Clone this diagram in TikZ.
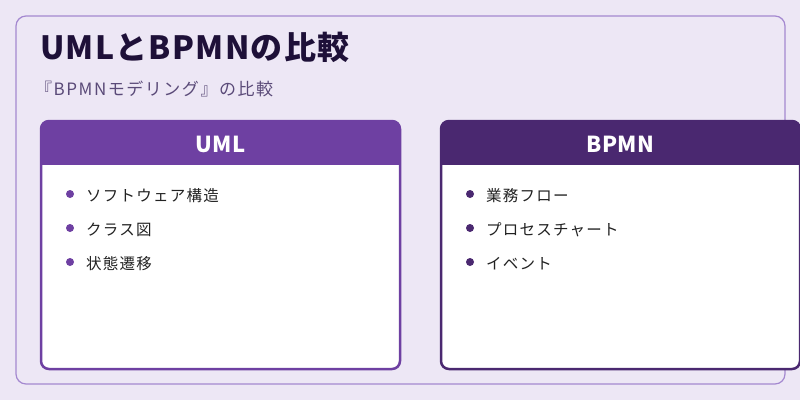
\documentclass[tikz,border=0pt]{standalone}
\usepackage{fontspec}
\setmainfont{Noto Sans CJK JP}
\definecolor{bg}{HTML}{EDE7F5}
\definecolor{frame}{HTML}{A488D0}
\definecolor{umlc}{HTML}{6E40A2}
\definecolor{bpmnc}{HTML}{4A2870}
\definecolor{titlec}{HTML}{1E1038}
\definecolor{subc}{HTML}{5A4A78}
\definecolor{txt}{HTML}{222222}
\begin{document}
\begin{tikzpicture}[x=1pt,y=-1pt,
  card/.style={rounded corners=8pt,line width=2.5pt,fill=white},
  item/.style={anchor=west,font=\fontsize{15.5}{18}\selectfont\addfontfeatures{LetterSpace=8},text=txt,inner sep=0},
  head/.style={font=\bfseries\fontsize{22}{26}\selectfont\addfontfeatures{LetterSpace=3},text=white}]
\useasboundingbox (0,0) rectangle (800,400);
\fill[bg] (0,0) rectangle (800,400);
\draw[frame,line width=1.2pt,rounded corners=10pt] (16,16) rectangle (785,384);
\node[anchor=west,font=\bfseries\fontsize{32}{36}\selectfont\addfontfeatures{LetterSpace=4},text=titlec,inner sep=0] (title) at (40,47) {UMLとBPMNの比較};
\node[anchor=west,font=\fontsize{17}{20}\selectfont\addfontfeatures{LetterSpace=9},text=subc,inner sep=0] (sub) at (35,89) {『BPMNモデリング』の比較};
% UML card
\draw[card,draw=umlc] (41,121) rectangle (400,369);
\begin{scope}
\clip[rounded corners=8pt] (41,121) rectangle (400,369);
\fill[umlc] (41,121) rectangle (400,165);
\end{scope}
\node[head] (h1) at (220.5,144) {UML};
\foreach \t [count=\i] in {ソフトウェア構造,クラス図,状態遷移}{
  \fill[umlc] (70,{160+34*\i}) circle (4);
  \node[item] (u\i) at (86,{162+34*\i}) {\t};
}
% BPMN card
\draw[card,draw=bpmnc] (441,121) rectangle (800,369);
\begin{scope}
\clip[rounded corners=8pt] (441,121) rectangle (800,369);
\fill[bpmnc] (441,121) rectangle (800,165);
\end{scope}
\node[head] (h2) at (620.5,144) {BPMN};
\foreach \t [count=\i] in {業務フロー,プロセスチャート,イベント}{
  \fill[bpmnc] (470,{160+34*\i}) circle (4);
  \node[item] (b\i) at (486,{162+34*\i}) {\t};
}
\end{tikzpicture}
\end{document}
